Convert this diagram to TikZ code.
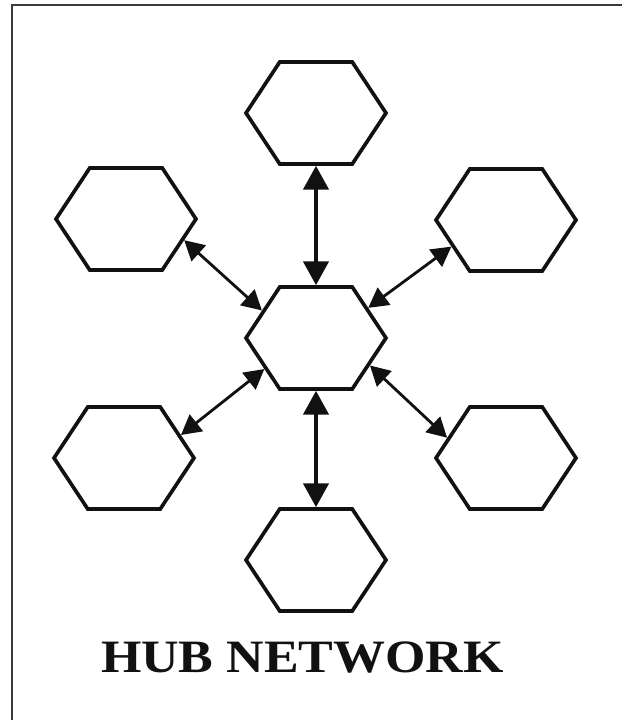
\documentclass[tikz,border=0pt]{standalone}
\usepackage{fontspec}
\usepackage{tikz}
\usetikzlibrary{positioning, arrows.meta, shapes.symbols}
\newfontfamily\hubfont[FakeStretch=1.12]{Liberation Serif}
\definecolor{FrameGray}{HTML}{3A3A3A}
\definecolor{HexInk}{HTML}{111111}

\begin{document}
\begin{tikzpicture}[>={Triangle[length=14pt, width=15pt]},
    hexbox/.style={signal, signal to=west and east, signal from=nowhere, signal pointer angle=113,
      draw=HexInk, line width=2.6pt, minimum width=3.5cm, minimum height=2.55cm, inner sep=0pt},
    link/.style={HexInk, line width=2pt, <->},
    vlink/.style={HexInk, line width=2.6pt, {Triangle[length=17pt, width=18pt]}-{Triangle[length=17pt, width=18pt]}}]
  \useasboundingbox (0,0) rectangle (15.55,18);
  % frame, left and top side only
  \coordinate (fbl) at (0.3,0);
  \coordinate (ftl) at (0.3,17.875);
  \coordinate (ftr) at (15.55,17.875);
  \draw[FrameGray, line width=2pt] (fbl) -- (ftl) -- (ftr);
  % hub and the six outer nodes
  \node[hexbox] (hub) at (7.9,9.55) {};
  \node[hexbox] (top) at (7.9,15.175) {};
  \node[hexbox] (bot) at (7.9,4.0) {};
  \node[hexbox] (tl) at (3.15,12.525) {};
  \node[hexbox] (tr) at (12.65,12.5) {};
  \node[hexbox] (bl) at (3.1,6.55) {};
  \node[hexbox] (br) at (12.65,6.55) {};
  % links
  \draw[vlink] (top.south) -- (hub.north);
  \draw[vlink] (hub.south) -- (bot.north);
  \draw[link] (tl.-20.6) -- (hub.153.4);
  \draw[link] (tr.206.6) -- (hub.30);
  \draw[link] (bl.22.3) -- (hub.211.5);
  \draw[link] (br.161) -- (hub.-27.4);
  % caption
  \node[font=\hubfont\bfseries\fontsize{33}{36}\selectfont, text=HexInk] (caption) at (7.56,1.575) {HUB NETWORK};
\end{tikzpicture}
\end{document}
